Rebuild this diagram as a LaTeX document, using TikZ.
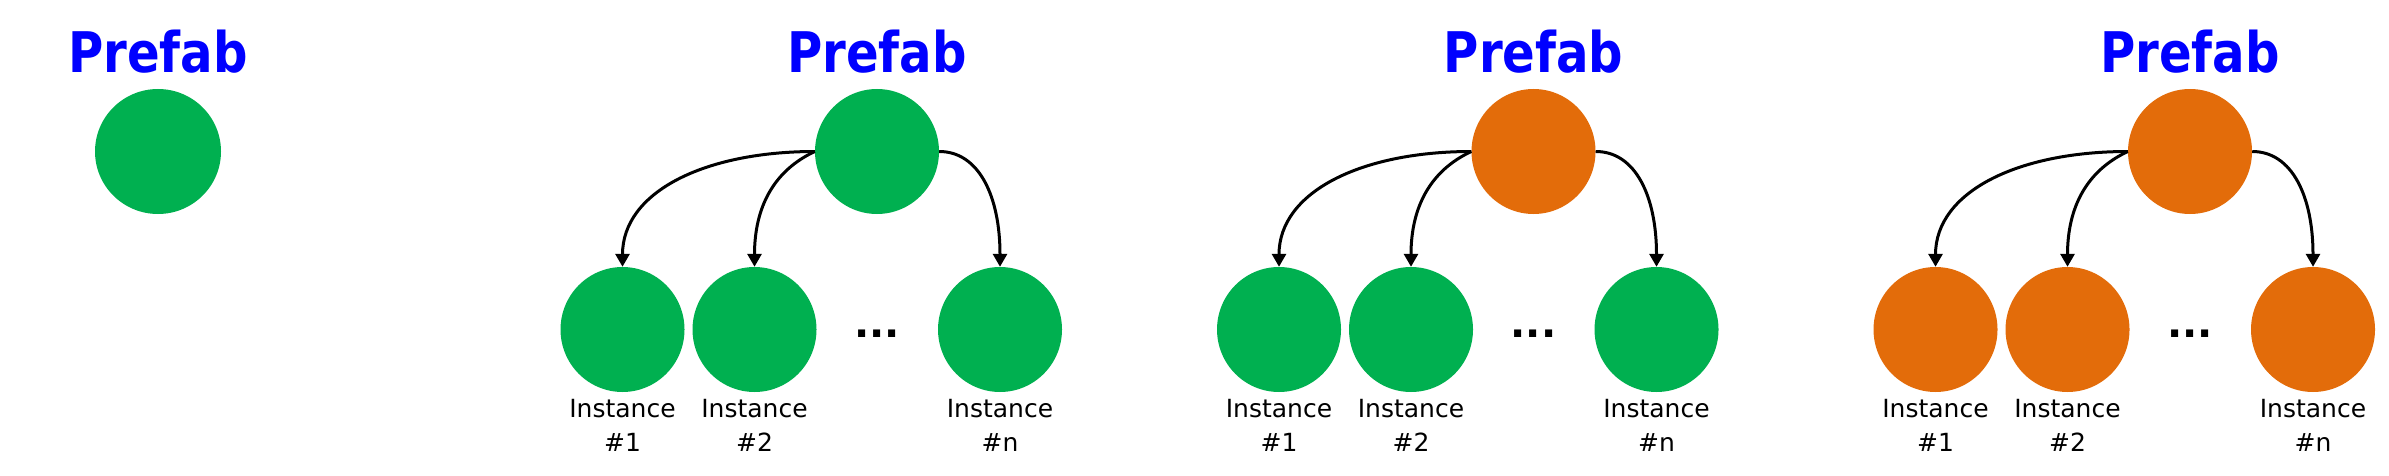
\documentclass[tikz,border=0pt]{standalone}
\usepackage{fontspec}
\setmainfont{DejaVu Sans}
\newfontfamily\pfont{DejaVu Sans}[FakeStretch=0.86]
\usetikzlibrary{shapes.geometric,arrows.meta}
\definecolor{pgreen}{HTML}{00B050}
\definecolor{porange}{HTML}{E36C0A}
\definecolor{pblue}{HTML}{0000FF}
\tikzset{
  ptitle/.style={font=\pfont\bfseries\fontsize{56}{60}\selectfont, text=pblue, anchor=base, inner sep=0pt},
  ball/.style={ellipse, inner sep=0pt, minimum height=125pt, minimum width=124pt},
  inst/.style={font=\fontsize{25}{30}\selectfont, anchor=base, inner sep=0pt},
  dotsty/.style={font=\bfseries\fontsize{40}{44}\selectfont, anchor=base, inner sep=0pt},
  arr/.style={line width=3pt, -{Triangle[width=14pt,length=13pt]}},
}
% #1 prefix, #2 top x, #3 b1 x, #4 b2 x, #5 bn x, #6 top colour, #7 bottom colour
\newcommand\prefabpanel[7]{%
  \node[ptitle] (#1t) at (#2,-73) {Prefab};
  \node[ball, fill=#6] (#1p) at (#2,-151.5) {};
  \node[ball, fill=#7] (#1b1) at (#3,-329.5) {};
  \node[ball, fill=#7] (#1b2) at (#4,-329.5) {};
  \node[ball, fill=#7] (#1bn) at (#5,-329.5) {};
  \node[dotsty] (#1d) at (#2,-337) {...};
  \node[inst] (#1l1a) at (#3,-417) {Instance};
  \node[inst] (#1l1b) at (#3,-451) {\#1};
  \node[inst] (#1l2a) at (#4,-417) {Instance};
  \node[inst] (#1l2b) at (#4,-451) {\#2};
  \node[inst] (#1lna) at (#5,-417) {Instance};
  \node[inst] (#1lnb) at (#5,-451) {\#n};
  \draw[arr] (#1p.west) to[out=180,in=90,out distance=110pt,in distance=75pt] (#1b1.north);
  \draw[arr] (#1p.west) to[out=205,in=90,out distance=45pt,in distance=60pt] (#1b2.north);
  \draw[arr] (#1p.east) to[out=0,in=90,out distance=40pt,in distance=70pt] (#1bn.north);
}
\begin{document}
\begin{tikzpicture}[x=1pt,y=1pt]
  \useasboundingbox (0,0) rectangle (2389,-476);
  % panel 1
  \node[ptitle] (at) at (158,-73) {Prefab};
  \node[ball, fill=pgreen, minimum width=126pt] (ap) at (158,-151.5) {};
  % panels 2-4
  \prefabpanel{b}{877}{622.5}{754.5}{1000}{pgreen}{pgreen}
  \prefabpanel{c}{1533.5}{1279}{1411}{1656.5}{porange}{pgreen}
  \prefabpanel{d}{2190}{1935.5}{2067.5}{2313}{porange}{porange}
\end{tikzpicture}
\end{document}
